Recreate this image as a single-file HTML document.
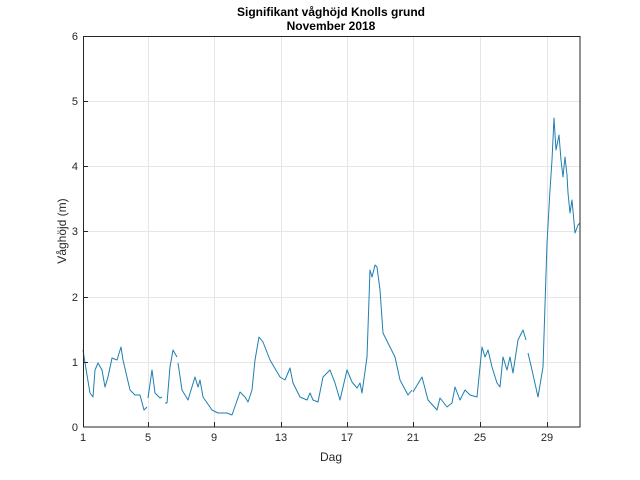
<!DOCTYPE html>
<html><head><meta charset="utf-8"><style>body{margin:0;background:#fff}svg{display:block}</style></head><body>
<svg width="640" height="480" viewBox="0 0 640 480" font-family="Liberation Sans, sans-serif">
<rect width="640" height="480" fill="#fff"/>
<g stroke="#e6e6e6" stroke-width="1">
<line x1="148.5" y1="36" x2="148.5" y2="427"/><line x1="214.5" y1="36" x2="214.5" y2="427"/><line x1="281.5" y1="36" x2="281.5" y2="427"/><line x1="347.5" y1="36" x2="347.5" y2="427"/><line x1="413.5" y1="36" x2="413.5" y2="427"/><line x1="480.5" y1="36" x2="480.5" y2="427"/><line x1="547.5" y1="36" x2="547.5" y2="427"/>
<line x1="83" y1="362.5" x2="580" y2="362.5"/><line x1="83" y1="297.5" x2="580" y2="297.5"/><line x1="83" y1="231.5" x2="580" y2="231.5"/><line x1="83" y1="166.5" x2="580" y2="166.5"/><line x1="83" y1="101.5" x2="580" y2="101.5"/>
</g>
<g fill="none" stroke="#1f7fb0" stroke-width="1" stroke-linejoin="round">
<polyline points="83,350 85,363 90,393 93,397 95,370 98,363 102,370 105,387 108,377 112,358 117,360 121,347 123,360 130,390 135,395 140,395 144,410 147,407"/>
<polyline points="148,398 152,370 155,393 160,398 162,397"/>
<polyline points="165,403 167,403 170,367 173,350 177,357"/>
<polyline points="178,363 182,390 188,400 195,377 198,387 200,380 203,397 212,410 218,413 227,413 232,415 240,392 245,397 248,402 252,390 255,360 259,337 263,342 270,360 280,377 285,380 290,368 293,383 300,397 307,400 310,393 313,400 318,402 323,377 330,370 335,383 340,400 347,370 352,382 357,388 360,383 362,393 367,357 370,270 372,277 375,265 377,267 380,290 383,333 390,347 395,357 400,380 408,395 412,390"/>
<polyline points="413,392 422,377 428,400 437,410 440,398 447,407 452,403 455,387 460,400 465,390 470,395 477,397 482,347 485,357 488,350 492,367 497,383 500,387 503,357 507,370 510,357 513,373 518,340 523,330 526,340"/>
<polyline points="528,353 532,370 538,397 543,367 547,243 550,190 552,160 554,118 556,150 559,135 561,160 563,177 565,157 567,175 568,193 570,213 572,200 575,233 578,225 580,223"/>
</g>
<rect x="83.5" y="36.5" width="496.5" height="390.5" fill="none" stroke="#262626" stroke-width="1"/>
<g stroke="#262626">
<line x1="148.5" y1="427" x2="148.5" y2="422"/><line x1="214.5" y1="427" x2="214.5" y2="422"/><line x1="281.5" y1="427" x2="281.5" y2="422"/><line x1="347.5" y1="427" x2="347.5" y2="422"/><line x1="413.5" y1="427" x2="413.5" y2="422"/><line x1="480.5" y1="427" x2="480.5" y2="422"/><line x1="547.5" y1="427" x2="547.5" y2="422"/>
<line x1="83" y1="362.5" x2="88" y2="362.5"/><line x1="83" y1="297.5" x2="88" y2="297.5"/><line x1="83" y1="231.5" x2="88" y2="231.5"/><line x1="83" y1="166.5" x2="88" y2="166.5"/><line x1="83" y1="101.5" x2="88" y2="101.5"/>
</g>
<g font-size="11" fill="#262626" text-anchor="middle">
<text x="83" y="441">1</text><text x="148" y="441">5</text><text x="214" y="441">9</text><text x="281" y="441">13</text><text x="347" y="441">17</text><text x="413" y="441">21</text><text x="480" y="441">25</text><text x="547" y="441">29</text>
</g>
<g font-size="11" fill="#262626" text-anchor="end">
<text x="78" y="431">0</text><text x="78" y="366">1</text><text x="78" y="301">2</text><text x="78" y="235">3</text><text x="78" y="170">4</text><text x="78" y="105">5</text><text x="78" y="40">6</text>
</g>
<text x="331" y="461" font-size="12" fill="#262626" text-anchor="middle">Dag</text>
<text transform="translate(66,231) rotate(-90)" font-size="12" fill="#262626" text-anchor="middle">Våghöjd (m)</text>
<text x="331" y="16" font-size="12" font-weight="bold" fill="#000" text-anchor="middle">Signifikant våghöjd Knolls grund</text>
<text x="331" y="30" font-size="12" font-weight="bold" fill="#000" text-anchor="middle">November 2018</text>
</svg>
</body></html>
